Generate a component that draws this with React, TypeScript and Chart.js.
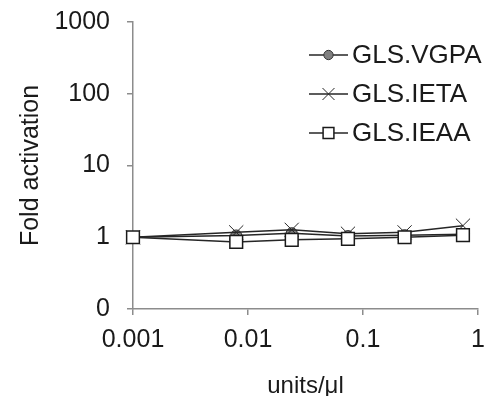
import React, { useEffect, useRef } from "react";
import { Chart, registerables } from "chart.js";

Chart.register(...registerables);

// Dose series (units/µl) and fold activation for each construct
const doses = [0.001, 0.0079, 0.024, 0.074, 0.23, 0.74];
const vgpaValues = [1, 1.06, 1.14, 1.04, 1.07, 1.1];
const ietaValues = [1, 1.17, 1.27, 1.12, 1.17, 1.45];
const ieaaValues = [1, 0.86, 0.92, 0.95, 1.0, 1.07];

const seriesNames = ["GLS.VGPA", "GLS.IETA", "GLS.IEAA"];

const xTickValues = [0.001, 0.01, 0.1, 1];
const xTickLabels = ["0.001", "0.01", "0.1", "1"];
const yTickValues = [0.1, 1, 10, 100, 1000];
const yTickLabels = ["0", "1", "10", "100", "1000"];

const FONT = "'Liberation Sans', Arial, sans-serif";
const AXIS_GRAY = "#8c8c8c";
const TEXT = "#1a1a1a";

type MarkerStyle = "circle" | "crossRot" | "rect";

function drawMarker(
  ctx: CanvasRenderingContext2D,
  style: MarkerStyle,
  x: number,
  y: number,
  r: number,
  fill: string,
  stroke: string,
  lw: number
) {
  ctx.save();
  ctx.lineWidth = lw;
  ctx.strokeStyle = stroke;
  ctx.fillStyle = fill;
  ctx.beginPath();
  if (style === "circle") {
    ctx.arc(x, y, r, 0, Math.PI * 2);
    ctx.fill();
    ctx.stroke();
  } else if (style === "rect") {
    const s = Math.SQRT1_2 * r;
    ctx.rect(x - s, y - s, 2 * s, 2 * s);
    ctx.fill();
    ctx.stroke();
  } else {
    const s = Math.SQRT1_2 * r;
    ctx.moveTo(x - s, y - s);
    ctx.lineTo(x + s, y + s);
    ctx.moveTo(x + s, y - s);
    ctx.lineTo(x - s, y + s);
    ctx.stroke();
  }
  ctx.restore();
}

// Legend drawn inside the plot: a short line with the series marker, then the name
const lineMarkerLegend = {
  id: "lineMarkerLegend",
  afterDraw(chart: any, _args: any, opts: any) {
    const ctx: CanvasRenderingContext2D = chart.ctx;
    const { x, y, rowGap, lineLen, textGap, fontSize, markerScale } = opts;
    chart.data.datasets.forEach((ds: any, i: number) => {
      const cy = y + i * rowGap;
      ctx.save();
      ctx.strokeStyle = ds.borderColor;
      ctx.lineWidth = ds.borderWidth;
      ctx.beginPath();
      ctx.moveTo(x, cy);
      ctx.lineTo(x + lineLen, cy);
      ctx.stroke();
      ctx.restore();
      drawMarker(
        ctx,
        ds.pointStyle,
        x + lineLen / 2,
        cy,
        ds.pointRadius * markerScale,
        ds.pointBackgroundColor,
        ds.pointBorderColor,
        ds.pointBorderWidth
      );
      ctx.save();
      ctx.fillStyle = TEXT;
      ctx.font = `${fontSize}px ${FONT}`;
      ctx.textAlign = "left";
      ctx.textBaseline = "middle";
      ctx.fillText(ds.label, x + lineLen + textGap, cy + 1);
      ctx.restore();
    });
  },
};

export default function App() {
  const canvasRef = useRef<HTMLCanvasElement | null>(null);

  useEffect(() => {
    if (!canvasRef.current) return;
    const mk = (values: number[]) => doses.map((d, i) => ({ x: d, y: values[i] }));

    const chart = new Chart(canvasRef.current, {
      type: "line",
      data: {
        datasets: [
          {
            label: seriesNames[0],
            data: mk(vgpaValues),
            borderColor: "#262626",
            borderWidth: 1.5,
            pointStyle: "circle",
            pointRadius: 5.5,
            pointBackgroundColor: "#808080",
            pointBorderColor: "#333333",
            pointBorderWidth: 1,
            clip: false,
            order: 3,
          },
          {
            label: seriesNames[1],
            data: mk(ietaValues),
            borderColor: "#262626",
            borderWidth: 1.5,
            pointStyle: "crossRot",
            pointRadius: 10,
            pointBackgroundColor: "#262626",
            pointBorderColor: "#262626",
            pointBorderWidth: 1,
            clip: false,
            order: 2,
          },
          {
            label: seriesNames[2],
            data: mk(ieaaValues),
            borderColor: "#262626",
            borderWidth: 1.5,
            pointStyle: "rect",
            pointRadius: 9,
            pointBackgroundColor: "#ffffff",
            pointBorderColor: "#1a1a1a",
            pointBorderWidth: 1.5,
            clip: false,
            order: 1,
          },
        ] as any,
      },
      options: {
        animation: false,
        responsive: true,
        maintainAspectRatio: false,
        layout: { padding: { top: 22, right: 21, left: 0, bottom: 0 } },
        plugins: {
          legend: { display: false },
          tooltip: { enabled: false },
          lineMarkerLegend: {
            x: 309,
            y: 55,
            rowGap: 39,
            lineLen: 39,
            textGap: 4,
            fontSize: 26,
            markerScale: 0.85,
          },
        } as any,
        scales: {
          x: {
            type: "logarithmic",
            min: 0.001,
            max: 1,
            afterBuildTicks: (s: any) => {
              s.ticks = xTickValues.map((v) => ({ value: v }));
            },
            afterFit: (s: any) => {
              s.height = 87;
            },
            ticks: {
              autoSkip: false,
              maxRotation: 0,
              padding: 10,
              color: TEXT,
              font: { size: 25, family: FONT },
              callback: (_v: any, i: number) => xTickLabels[i],
            },
            grid: {
              drawOnChartArea: false,
              drawTicks: true,
              tickLength: 6,
              color: AXIS_GRAY,
              lineWidth: 1.5,
            },
            border: { color: AXIS_GRAY, width: 1.5 },
            title: {
              display: true,
              text: "units/\u03bcl",
              color: TEXT,
              font: { size: 24, family: FONT, lineHeight: 1 },
              padding: { top: 0, bottom: -2 },
            },
          },
          y: {
            type: "logarithmic",
            min: 0.1,
            max: 1000,
            afterBuildTicks: (s: any) => {
              s.ticks = yTickValues.map((v) => ({ value: v }));
            },
            afterFit: (s: any) => {
              s.width = 133;
              s.paddingTop = 0;
              s.paddingBottom = 0;
            },
            ticks: {
              autoSkip: false,
              padding: 17,
              color: TEXT,
              font: { size: 25, family: FONT },
              callback: (_v: any, i: number) => yTickLabels[i],
            },
            grid: {
              drawOnChartArea: false,
              drawTicks: true,
              tickLength: 6,
              color: AXIS_GRAY,
              lineWidth: 1.5,
            },
            border: { color: AXIS_GRAY, width: 1.5 },
            title: {
              display: true,
              text: "Fold activation",
              color: TEXT,
              font: { size: 25, family: FONT, lineHeight: 1 },
              padding: { top: 19, bottom: 0 },
            },
          },
        },
      },
      plugins: [lineMarkerLegend],
    });

    return () => chart.destroy();
  }, []);

  return (
    <div
      style={{
        position: "absolute",
        left: 0,
        top: 0,
        width: 499,
        height: 396,
        background: "#ffffff",
      }}
    >
      <canvas ref={canvasRef} />
    </div>
  );
}
